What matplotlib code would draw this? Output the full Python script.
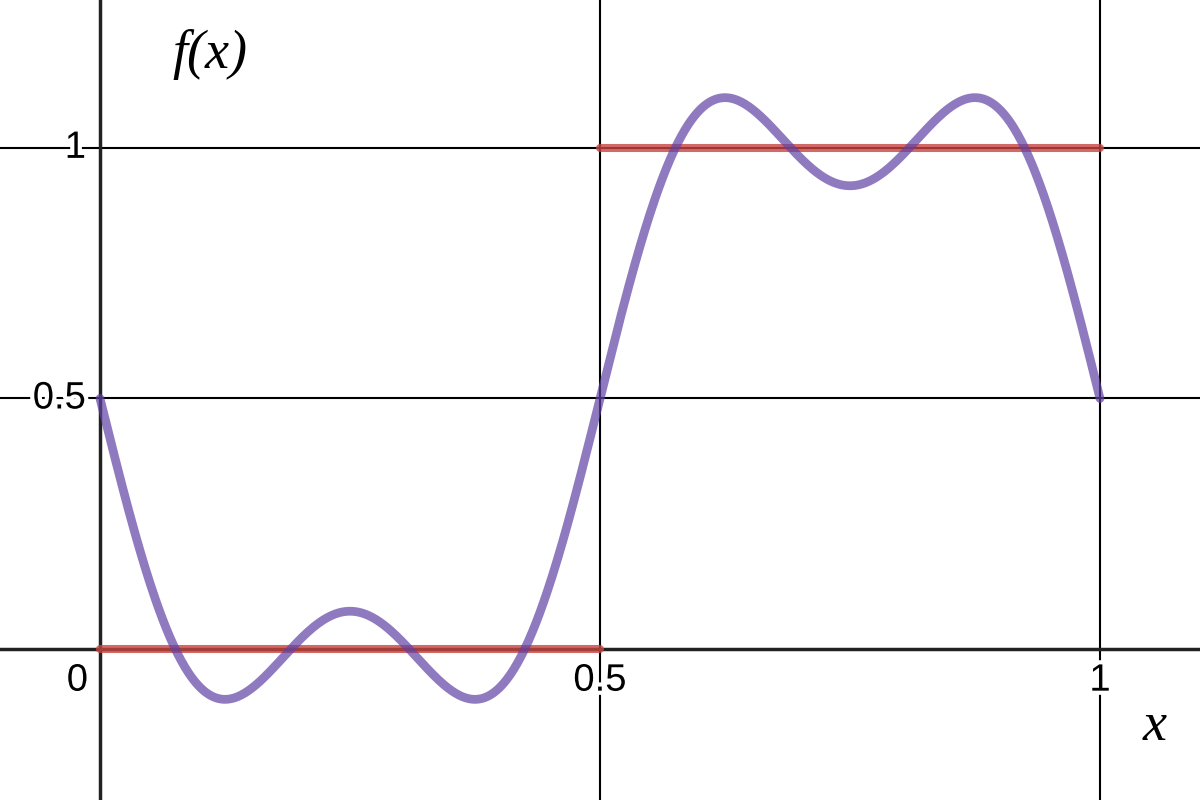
import numpy as np
import matplotlib
matplotlib.use("Agg")
import matplotlib.pyplot as plt
import matplotlib.patheffects as pe

# square wave: 0 on [0, 0.5), 1 on [0.5, 1]
step_x0 = [0.0, 0.5]
step_x1 = [0.5, 1.0]
step_y = [0.0, 1.0]

# Fourier partial sum: mean term and sine harmonics (k, b_k)
mean_term = 0.5
harmonics = [1, 3]
coeffs = [-2 / np.pi, -2 / (3 * np.pi)]

xs = np.linspace(0, 1, 801)
fx = mean_term + sum(b * np.sin(2 * np.pi * k * xs) for k, b in zip(harmonics, coeffs))

x_ticks = [0, 0.5, 1]
x_tick_labels = ["0", "0.5", "1"]
y_ticks = [0.5, 1]
y_tick_labels = ["0.5", "1"]

fig = plt.figure(figsize=(12, 8), dpi=100)
ax = fig.add_axes([0, 0, 1, 1])
ax.set_xlim(-0.1, 1.1)
ax.set_ylim(-0.301, 1.295)
ax.axis("off")

# grid
for gx in x_ticks[1:]:
    ax.axvline(gx, color="black", lw=1.5, zorder=1)
for gy in y_ticks:
    ax.axhline(gy, color="black", lw=1.5, zorder=1)
# axes
ax.axvline(0, color="#222222", lw=2.5, zorder=2)
ax.axhline(0, color="#222222", lw=2.5, zorder=2)

# square wave pieces
for a, b, y in zip(step_x0, step_x1, step_y):
    ax.plot([a, b], [y, y], color="#c74440", alpha=0.8, lw=5.8,
            solid_capstyle="round", zorder=3)

# partial sum
ax.plot(xs, fx, color="#6042a6", alpha=0.7, lw=6.3,
        solid_capstyle="round", zorder=4)

halo = [pe.withStroke(linewidth=6, foreground="white")]
font = dict(family="Liberation Sans", fontsize=27.5, zorder=5, path_effects=halo)

# x tick labels
ax.text(-0.012, -0.027, "0", ha="right", va="top", **font)
for t, lab in zip(x_ticks[1:], x_tick_labels[1:]):
    ax.text(t, -0.027, lab, ha="center", va="top", **font)
# y tick labels
for t, lab in zip(y_ticks, y_tick_labels):
    ax.text(-0.014, t, lab, ha="right", va="center", **font)

ax.text(0.072, 1.186, "f(x)", family="Liberation Serif", style="italic",
        fontsize=39, ha="left", va="center")
ax.text(1.055, -0.155, "x", family="Liberation Serif", style="italic",
        fontsize=39, ha="center", va="center")

fig.savefig("out.png", dpi=100)
